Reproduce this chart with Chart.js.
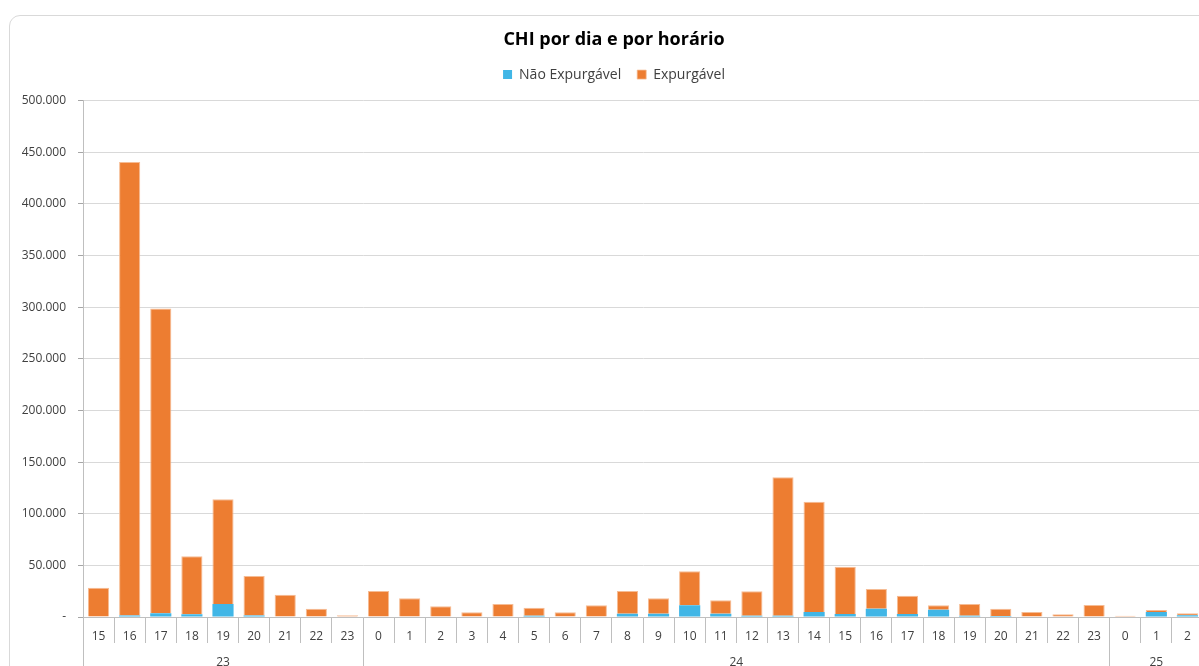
<!DOCTYPE html>
<html>
<head>
<meta charset="utf-8">
<script src="https://cdn.jsdelivr.net/npm/chart.js@4.4.1/dist/chart.umd.min.js"></script>
<style>
  html, body { margin: 0; padding: 0; background: #ffffff; overflow: hidden; width: 1199px; height: 666px; }
  #card { position: absolute; left: 9px; top: 15px; width: 1240px; height: 720px; border: 1px solid #d9d9d9; border-radius: 11px; background: #fff; box-sizing: border-box; }
  #c { position: absolute; left: 0; top: 0; }
</style>
</head>
<body>
<div id="card"></div>
<canvas id="c" width="1230" height="703"></canvas>
<script>
// ---- Data ----
const hourLabels = ['15','16','17','18','19','20','21','22','23',
  '0','1','2','3','4','5','6','7','8','9','10','11','12','13','14','15','16','17','18','19','20','21','22','23',
  '0','1','2'];
const dayLabels = ['23', '24', '25'];
const dayCounts = [9, 24, 3];
const naoExpurgavel = [0, 1500, 3600, 2600, 12600, 1500, 0, 0, 0,
  0, 0, 0, 0, 0, 1300, 0, 0, 3200, 3200, 11300, 3200, 1300, 1300, 4800, 2900, 8000, 2900, 7100, 1300, 1000, 0, 0, 0,
  0, 4800, 1800];
const expurgavel = [28400, 439100, 295100, 56200, 101400, 38200, 21600, 8000, 1600,
  25200, 18100, 10400, 4500, 12600, 7700, 4500, 11300, 22000, 14900, 33000, 13000, 23700, 134100, 106900, 45800, 19100, 17700, 4200, 11300, 7000, 4800, 2600, 11600,
  1300, 2000, 1800];
const yMax = 500000;
const yStep = 50000;

// group tick definitions (separators + centered labels) derived from day groups
const dayTicks = [];
let start = 0;
dayTicks.push({ value: -0.5, label: '', sep: true });
dayCounts.forEach((n, i) => {
  dayTicks.push({ value: start + (n - 1) / 2, label: dayLabels[i], sep: false });
  start += n;
  dayTicks.push({ value: start - 0.5, label: '', sep: true });
});

const FONT = "'Open Sans', 'Liberation Sans', sans-serif";
const fmt = v => v === 0 ? '-' : String(v).replace(/\B(?=(\d{3})+(?!\d))/g, '.');

new Chart(document.getElementById('c'), {
  type: 'bar',
  data: {
    labels: hourLabels,
    datasets: [
      { label: 'Não Expurgável', data: naoExpurgavel, backgroundColor: '#41B6E6', borderWidth: 0, barPercentage: 0.68, categoryPercentage: 1.0 },
      { label: 'Expurgável', data: expurgavel, backgroundColor: '#ED7D31', borderColor: '#F6BC94', borderWidth: { top: 1, left: 1, right: 1, bottom: 0 }, borderSkipped: false, barPercentage: 0.68, categoryPercentage: 1.0 }
    ]
  },
  options: {
    responsive: false,
    animation: false,
    devicePixelRatio: 1,
    layout: { padding: { left: 0, right: 2, top: 0, bottom: 0 } },
    plugins: {
      title: {
        display: true,
        text: 'CHI por dia e por horário',
        color: '#000000',
        font: { family: FONT, size: 18, weight: 'bold' },
        padding: { top: 29, bottom: 1 }
      },
      legend: {
        display: true,
        position: 'top',
        labels: {
          boxWidth: 9, boxHeight: 9, padding: 16,
          color: '#404040',
          font: { family: FONT, size: 14 }
        }
      },
      tooltip: { enabled: false }
    },
    scales: {
      x: {
        type: 'category',
        stacked: true,
        position: 'bottom',
        weight: 0,
        offset: true,
        grid: { display: true, offset: true, drawOnChartArea: false, drawTicks: true, tickLength: 26, color: '#bfbfbf' },
        border: { display: true, color: '#bfbfbf' },
        ticks: { color: '#404040', font: { family: FONT, size: 12 }, padding: -14, maxRotation: 0, autoSkip: false },
        afterFit: s => { s.height = 26; }
      },
      x2: {
        type: 'linear',
        axis: 'x',
        position: 'bottom',
        weight: 1,
        offset: false,
        min: -0.5,
        max: hourLabels.length - 0.5,
        afterBuildTicks: s => { s.ticks = dayTicks.map(t => ({ value: t.value })); },
        grid: {
          display: true, offset: false, drawOnChartArea: false, drawTicks: true, tickLength: 60,
          color: ctx => (dayTicks[ctx.index] && dayTicks[ctx.index].sep) ? '#bfbfbf' : 'rgba(0,0,0,0)'
        },
        border: { display: false },
        ticks: {
          color: '#404040', font: { family: FONT, size: 12 }, padding: -48, maxRotation: 0, autoSkip: false,
          callback: (v, i) => dayTicks[i] ? dayTicks[i].label : ''
        },
        afterFit: s => { s.height = 60; }
      },
      xTopSpace: {
        type: 'linear', axis: 'x', position: 'top', offset: false, min: 0, max: 1,
        grid: { display: false, drawTicks: false }, border: { display: false }, ticks: { display: false },
        afterFit: s => { s.height = 9; }
      },
      y: {
        stacked: true,
        min: 0,
        max: yMax,
        ticks: { stepSize: yStep, color: '#404040', font: { family: FONT, size: 12 }, padding: 12, callback: v => fmt(v) },
        grid: { color: '#d9d9d9', tickLength: 5, tickColor: '#a6a6a6' },
        border: { display: true, color: '#bfbfbf' },
        afterFit: s => { s.width = 83; }
      },
      yRightSpace: {
        type: 'linear', axis: 'y', position: 'right', min: 0, max: 1,
        grid: { display: false, drawTicks: false }, border: { display: false }, ticks: { display: false },
        afterFit: s => { s.width = 25; }
      }
    }
  }
});
</script>
</body>
</html>
